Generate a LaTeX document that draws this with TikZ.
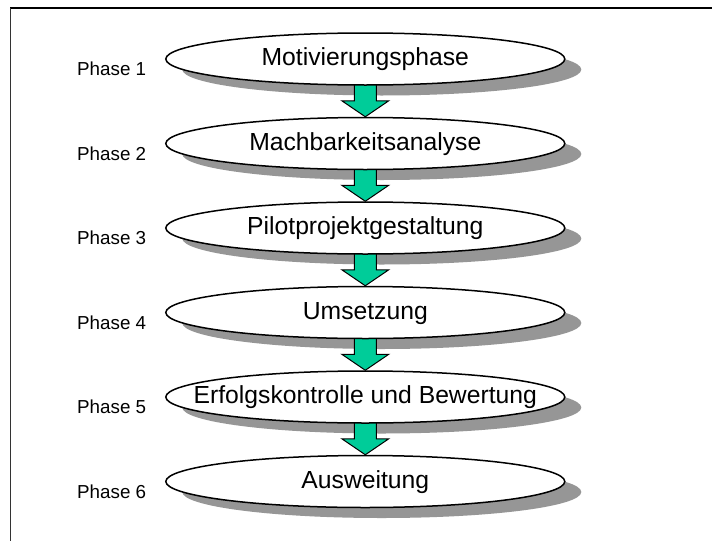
\documentclass[tikz,border=0pt]{standalone}
\usepackage{fontspec}
\setmainfont{Liberation Sans}
\usetikzlibrary{shapes.geometric,calc}
\definecolor{arrgreen}{HTML}{00CC99}
\definecolor{shadowgray}{HTML}{969696}
\pgfdeclarelayer{paperlayer}
\pgfdeclarelayer{shadowlayer}
\pgfdeclarelayer{arrowlayer}
\pgfsetlayers{paperlayer,shadowlayer,arrowlayer,main}
\begin{document}
\begin{tikzpicture}[x=1pt,y=-1pt,
  phase/.style={ellipse, draw, line width=1.5pt, fill=white, minimum width=399pt, minimum height=52pt, inner sep=0pt},
  phshadow/.style={ellipse, fill=shadowgray, minimum width=399pt, minimum height=52pt, inner sep=0pt},
  phtext/.style={anchor=base, font=\fontsize{24.7}{28}\selectfont, inner sep=0pt},
  plabel/.style={anchor=base west, font=\fontsize{18.8}{22}\selectfont, inner sep=0pt},
  blockarrow/.style={draw, fill=arrgreen, line width=1pt, line join=miter}]
\useasboundingbox (0,0) rectangle (712,541);
\begin{pgfonlayer}{paperlayer}
\fill[white] (0,0) rectangle (712,541);
\end{pgfonlayer}
% frame
\draw[line width=2pt] (10,8) -- (712,8);
\draw[line width=1pt, black!80] (10.5,8) -- (10.5,541);
% phases
\foreach \i/\t in {1/Motivierungsphase, 2/Machbarkeitsanalyse, 3/Pilotprojektgestaltung, 4/Umsetzung, 5/Erfolgskontrolle und Bewertung, 6/Ausweitung} {
  \pgfmathsetmacro{\yy}{59+84.5*(\i-1)}
  \node[phase] (e\i) at (365.3,\yy) {};
  \node[phtext] (t\i) at ($(e\i.center)+(0,6.5)$) {\t};
  \node[plabel] (p\i) at (77,\yy+16.5) {Phase \i};
  \begin{pgfonlayer}{shadowlayer}
    \node[phshadow] (s\i) at ($(e\i.center)+(16.5,10.5)$) {};
  \end{pgfonlayer}
}
% arrows
\begin{pgfonlayer}{arrowlayer}
\foreach \i [evaluate=\i as \j using int(\i+1)] in {1,...,5} {
  \draw[blockarrow] ($(e\i.center)+(-11,0)$) -- ($(e\j.north)+(-11,-16)$) -- ($(e\j.north)+(-23.5,-16)$) -- (e\j.north) -- ($(e\j.north)+(23.5,-16)$) -- ($(e\j.north)+(11,-16)$) -- ($(e\i.center)+(11,0)$) -- cycle;
}
\end{pgfonlayer}
\end{tikzpicture}
\end{document}
